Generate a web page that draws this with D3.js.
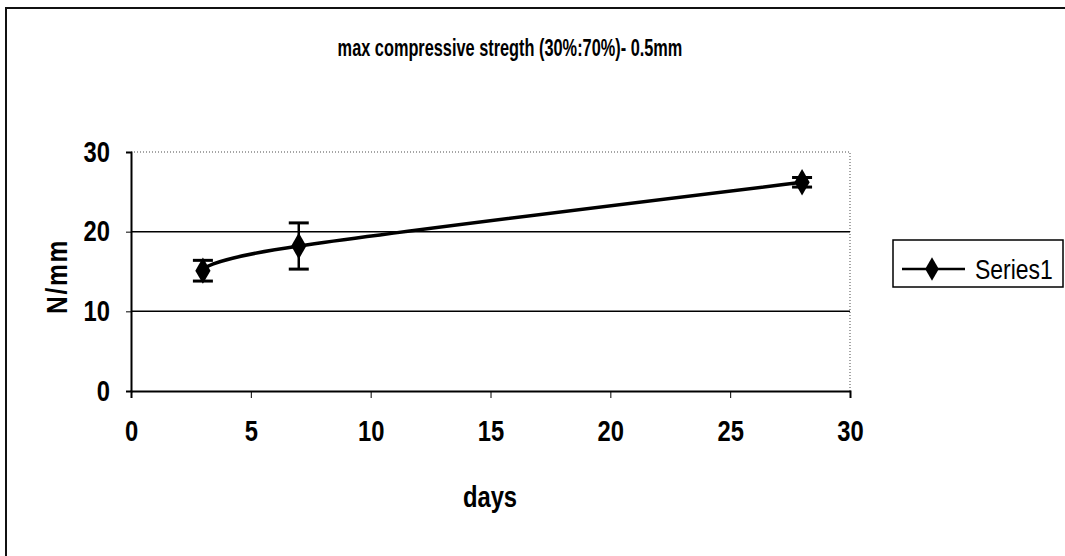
<!DOCTYPE html>
<html>
<head>
<meta charset="utf-8">
<script src="https://cdn.jsdelivr.net/npm/d3@7"></script>
<style>
    body { margin: 0; background: #fff; }
    svg { display: block; }
    text { font-family: "Liberation Sans", Arial, sans-serif; }
</style>
</head>
<body>
<svg id="chart" width="1065" height="556"></svg>
<script>
// data
const days = [3, 7, 28];
const strength = [15.1, 18.2, 26.2];
const errors = [1.3, 2.9, 0.6];
const xTicks = [0, 5, 10, 15, 20, 25, 30];
const yTicks = [0, 10, 20, 30];
const seriesName = "Series1";

const WIDTH = 1065;
const HEIGHT = 556;
const PLOT = { left: 131, right: 850, top: 152, bottom: 391 };
// no narrow face installed, so squeeze the glyphs horizontally
const SQUEEZE = 0.82;

const svg = d3.select("#chart");

/**
 * Put a squeezed text at (x, y), optionally rotated.
 */
function label(parent, x, y, str, size, opts = {}) {
    let rot = opts.rotate ? ` rotate(${opts.rotate})` : "";
    let sq = opts.squeeze || SQUEEZE;
    return parent.append("text")
        .attr("transform", `translate(${x},${y})${rot} scale(${sq},1)`)
        .attr("text-anchor", opts.anchor || "start")
        .attr("font-size", size)
        .attr("font-weight", opts.bold ? "bold" : "normal")
        .attr("fill", "#000")
        .text(str);
}

// outer chart border
svg.append("rect")
    .attr("x", 6).attr("y", 8)
    .attr("width", WIDTH).attr("height", HEIGHT)
    .attr("fill", "none")
    .attr("stroke", "#111")
    .attr("stroke-width", 2);

const x = d3.scaleLinear().domain([0, 30]).range([PLOT.left, PLOT.right]);
const y = d3.scaleLinear().domain([0, 30]).range([PLOT.bottom, PLOT.top]);

// plot area border (dotted, grey)
svg.append("path")
    .attr("d", `M${PLOT.left},${PLOT.top}H${PLOT.right}V${PLOT.bottom}`)
    .attr("fill", "none")
    .attr("stroke", "#888")
    .attr("stroke-width", 1.5)
    .attr("stroke-dasharray", "1 2");

// gridlines at 10 and 20
svg.append("g")
    .selectAll("line")
    .data(yTicks.filter(d => d > 0 && d < 30))
    .join("line")
    .attr("x1", PLOT.left).attr("x2", PLOT.right)
    .attr("y1", d => y(d)).attr("y2", d => y(d))
    .attr("stroke", "#000")
    .attr("stroke-width", 1.5);

// x axis
const xAxis = svg.append("g")
    .attr("transform", `translate(0,${PLOT.bottom})`)
    .call(d3.axisBottom(x).tickValues(xTicks).tickSize(7).tickPadding(22));
xAxis.select(".domain").attr("stroke-width", 2);
xAxis.selectAll("text")
    .attr("transform", `scale(${SQUEEZE},1)`)
    .attr("font-size", 29)
    .attr("font-weight", "bold")
    .attr("fill", "#000");

// y axis
const yAxis = svg.append("g")
    .attr("transform", `translate(${PLOT.left},0)`)
    .call(d3.axisLeft(y).tickValues(yTicks).tickSize(5).tickPadding(19));
yAxis.select(".domain").attr("stroke-width", 2);
yAxis.selectAll("text")
    .attr("x", -21 / SQUEEZE)
    .attr("transform", `scale(${SQUEEZE},1)`)
    .attr("font-size", 29)
    .attr("font-weight", "bold")
    .attr("fill", "#000");

// title and axis labels
label(svg, 510, 56, "max compressive stregth (30%:70%)- 0.5mm", 23,
    { anchor: "middle", bold: true, squeeze: 0.71 });
label(svg, 490, 507, "days", 29, { anchor: "middle", bold: true });
label(svg, 67, (PLOT.top + PLOT.bottom) / 2 + 5, "N/mm", 30,
    { anchor: "middle", bold: true, rotate: -90 })
    .attr("letter-spacing", 2);

// series
const points = days.map((d, i) => ({ x: d, y: strength[i], err: errors[i] }));

const line = d3.line()
    .x(d => x(d.x))
    .y(d => y(d.y))
    .curve(d3.curveCatmullRom.alpha(0));

svg.append("path")
    .datum(points)
    .attr("d", line)
    .attr("fill", "none")
    .attr("stroke", "#000")
    .attr("stroke-width", 3.5);

const bars = svg.append("g").selectAll("g")
    .data(points)
    .join("g");
bars.append("line")
    .attr("x1", d => x(d.x)).attr("x2", d => x(d.x))
    .attr("y1", d => y(d.y - d.err)).attr("y2", d => y(d.y + d.err))
    .attr("stroke", "#000").attr("stroke-width", 2.5);
bars.selectAll("line.cap")
    .data(d => [d.y - d.err, d.y + d.err].map(v => ({ x: d.x, v })))
    .join("line")
    .attr("class", "cap")
    .attr("x1", d => x(d.x) - 10).attr("x2", d => x(d.x) + 10)
    .attr("y1", d => y(d.v)).attr("y2", d => y(d.v))
    .attr("stroke", "#000").attr("stroke-width", 3);

const diamond = d3.symbol().type(d3.symbolDiamond).size(200);
svg.append("g").selectAll("path")
    .data(points)
    .join("path")
    .attr("transform", d => `translate(${x(d.x)},${y(d.y)})`)
    .attr("d", diamond)
    .attr("fill", "#000");

// legend
const legend = svg.append("g").attr("transform", "translate(893,240)");
legend.append("rect")
    .attr("width", 170).attr("height", 47)
    .attr("fill", "#fff")
    .attr("stroke", "#000")
    .attr("stroke-width", 1.5);
legend.append("line")
    .attr("x1", 9).attr("x2", 72)
    .attr("y1", 29).attr("y2", 29)
    .attr("stroke", "#000").attr("stroke-width", 2.5);
legend.append("path")
    .attr("transform", "translate(39,29)")
    .attr("d", d3.symbol().type(d3.symbolDiamond).size(160))
    .attr("fill", "#000");
label(legend, 82, 39, seriesName, 28);
</script>
</body>
</html>
